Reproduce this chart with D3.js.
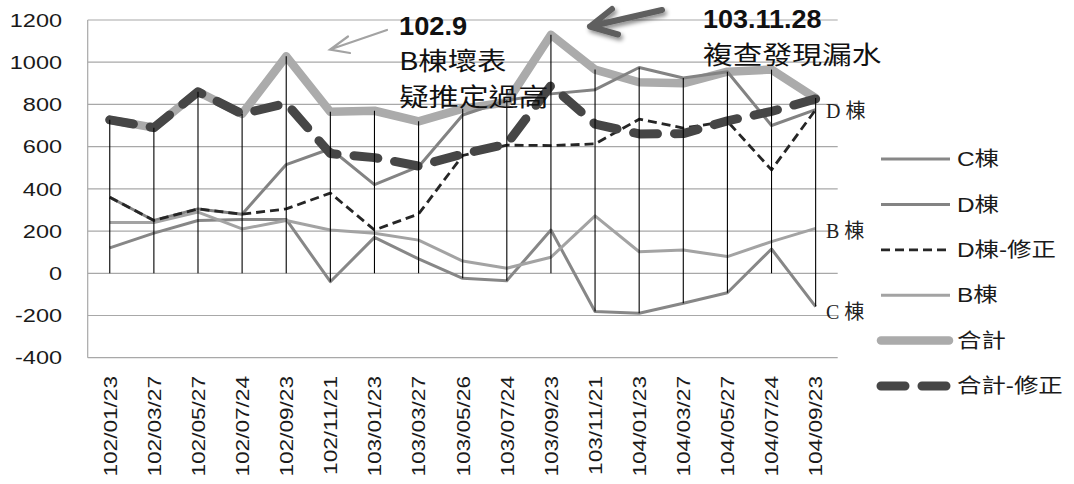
<!DOCTYPE html>
<html>
<head>
<meta charset="utf-8">
<script src="https://cdn.jsdelivr.net/npm/d3@7/dist/d3.min.js"></script>
<style>
  html, body { margin: 0; padding: 0; background: #fff; }
  svg { display: block; }
</style>
</head>
<body>
<svg id="chart" width="1074" height="484"></svg>
<script>
// Sampling dates (ROC calendar)
const categories = ["102/01/23","102/03/27","102/05/27","102/07/24","102/09/23","102/11/21",
  "103/01/23","103/03/27","103/05/26","103/07/24","103/09/23","103/11/21",
  "104/01/23","104/03/27","104/05/27","104/07/24","104/09/23"];

// Water usage per building
const cValues  = [120, 190, 250, 255, 255, -40, 170, 68, -24, -35, 205, -181, -189, -142, -92, 115, -158];
const dValues  = [360, 250, 305, 280, 515, 590, 420, 505, 750, 820, 850, 870, 975, 925, 955, 700, 775];
const dFixed   = [360, 250, 305, 280, 305, 380, 205, 281, 558, 607, 605, 613, 730, 688, 720, 490, 775];
const bValues  = [240, 240, 290, 210, 250, 205, 190, 157, 58, 24, 76, 272, 102, 110, 79, 150, 213];
const total    = [727, 690, 860, 755, 1028, 765, 770, 720, 780, 810, 1130, 965, 905, 900, 955, 965, 830];
const totalFix = [727, 690, 860, 755, 805, 567, 548, 508, 565, 612, 890, 707, 660, 662, 722, 767, 826];

const yTicks = [-400, -200, 0, 200, 400, 600, 800, 1000, 1200];

const seriesNames = ["C棟", "D棟", "D棟-修正", "B棟", "合計", "合計-修正"];

const svg = d3.select("#chart");
svg.append("rect").attr("width", 1074).attr("height", 484).attr("fill", "#fff");

const plotLeft = 87.7, plotRight = 837.7, plotTop = 20, plotBottom = 357.7;

const x = d3.scalePoint().domain(categories).range([plotLeft, plotRight]).padding(0.5);
const y = d3.scaleLinear().domain([-400, 1200]).range([plotBottom, plotTop]);

// Styles per series
const styles = {
  "C棟":      { color: "#878787", width: 3 },
  "D棟":      { color: "#838383", width: 3 },
  "D棟-修正": { color: "#262626", width: 2.8, dash: "9 5" },
  "B棟":      { color: "#a3a3a3", width: 3 },
  "合計":     { color: "#ababab", width: 8.5, cap: "round" },
  "合計-修正": { color: "#464646", width: 9, dash: "24 17", cap: "round" }
};
const seriesData = {
  "C棟": cValues, "D棟": dValues, "D棟-修正": dFixed,
  "B棟": bValues, "合計": total, "合計-修正": totalFix
};

// helper: text with horizontal stretch
function stext(parent, tx, ty, str, o) {
  const g = parent.append("g")
    .attr("transform", `translate(${tx},${ty})` + (o.rotate ? ` rotate(${o.rotate})` : "") + ` scale(${o.sx || 1},1)`);
  const t = g.append("text")
    .attr("font-family", o.family || "'Liberation Sans', 'Noto Sans CJK TC', sans-serif")
    .attr("font-size", o.size)
    .attr("font-weight", o.weight || "normal")
    .attr("text-anchor", o.anchor || "start")
    .attr("fill", o.fill || "#111")
    .text(str);
  if (o.dy) t.attr("dy", o.dy);
  return t;
}

// Gridlines
const grid = svg.append("g");
grid.selectAll("line").data(yTicks).join("line")
  .attr("x1", plotLeft).attr("x2", plotRight)
  .attr("y1", d => y(d)).attr("y2", d => y(d))
  .attr("stroke", "#a8a8a8").attr("stroke-width", 1.2);
// value axis line
grid.append("line").attr("x1", plotLeft).attr("x2", plotLeft).attr("y1", plotTop).attr("y2", plotBottom)
  .attr("stroke", "#a8a8a8").attr("stroke-width", 1.2);

// Y tick labels
yTicks.forEach(v => {
  stext(svg, 62, y(v), String(v), { size: 18.5, sx: 1.27, anchor: "end", dy: "0.36em", fill: "#1a1a1a" });
});

// X tick labels (rotated)
categories.forEach(c => {
  stext(svg, x(c), 376, c, { size: 19, sx: 1.19, anchor: "end", rotate: -90, dy: "0.36em", fill: "#1a1a1a" });
});

// Lines
const line = d3.line().x((d, i) => x(categories[i])).y(d => y(d));
const drawOrder = ["合計", "C棟", "D棟", "B棟", "D棟-修正", "合計-修正"];
drawOrder.forEach(name => {
  const s = styles[name];
  svg.append("path")
    .attr("d", line(seriesData[name]))
    .attr("fill", "none")
    .attr("stroke", s.color)
    .attr("stroke-width", s.width)
    .attr("stroke-linejoin", "round")
    .attr("stroke-linecap", s.cap || "butt")
    .attr("stroke-dasharray", s.dash || null);
});

// High-low lines
const allSeries = seriesNames.map(n => seriesData[n]);
svg.append("g").selectAll("line").data(categories).join("line")
  .attr("x1", d => x(d)).attr("x2", d => x(d))
  .attr("y1", (d, i) => y(Math.max(0, d3.max(allSeries, s => s[i]))))
  .attr("y2", (d, i) => y(Math.min(0, d3.min(allSeries, s => s[i]))))
  .attr("stroke", "#000").attr("stroke-width", 1.1);

// End labels
const last = categories.length - 1;
const serif = "'Liberation Serif', 'Noto Sans CJK TC', serif";
stext(svg, 826, y(dValues[last]) + 1, "D 棟", { size: 20, family: serif, dy: "0.36em", fill: "#222" });
stext(svg, 826, y(bValues[last]) + 2, "B 棟", { size: 20, family: serif, dy: "0.36em", fill: "#222" });
stext(svg, 826, y(cValues[last]) + 5, "C 棟", { size: 20, family: serif, dy: "0.36em", fill: "#222" });

// Legend
const legend = svg.append("g");
seriesNames.forEach((name, i) => {
  const ly = 159 + i * 45.4;
  const s = styles[name];
  const isThick = name.startsWith("合計");
  legend.append("line")
    .attr("x1", 881).attr("x2", isThick ? 949 : 950)
    .attr("y1", ly).attr("y2", ly)
    .attr("stroke", s.color)
    .attr("stroke-width", s.width)
    .attr("stroke-linecap", s.cap || "butt")
    .attr("stroke-dasharray", s.dash || null);
  stext(legend, 957, ly, name, { size: 20, sx: 1.22, dy: "0.36em", fill: "#1a1a1a" });
});

// Annotations
const defs = svg.append("defs");
const f = defs.append("filter").attr("id", "arrowShadow").attr("x", "-30%").attr("y", "-80%").attr("width", "160%").attr("height", "260%");
f.append("feDropShadow").attr("dx", 2).attr("dy", 3).attr("stdDeviation", 2)
  .attr("flood-color", "#000").attr("flood-opacity", 0.45);

// thin arrow pointing to the 102/09 peak
const a1 = svg.append("g").attr("stroke", "#a3a3a3").attr("stroke-width", 2.2)
  .attr("stroke-linecap", "round").attr("fill", "none");
a1.append("path").attr("d", "M387,30 L330,49.5 M348,36.5 L330,49.5 L350,53");

// thick arrow pointing to the 103/09 peak
const a2 = svg.append("g").attr("stroke", "#5e5e5e").attr("stroke-width", 6)
  .attr("stroke-linecap", "round").attr("stroke-linejoin", "round").attr("fill", "none")
  .attr("filter", "url(#arrowShadow)");
a2.append("path").attr("d", "M662,10 L590,26.5 M612,9 L590,26.5 L618,34.5");

const cjk = "'Noto Sans CJK TC', 'Liberation Sans', sans-serif";
stext(svg, 399, 35, "102.9", { size: 25, weight: "bold", sx: 1.09 });
stext(svg, 399, 70, "B棟壞表", { size: 24.5, family: cjk, sx: 1.2 });
stext(svg, 399, 106, "疑推定過高", { size: 24.5, family: cjk, sx: 1.22 });
stext(svg, 703, 28, "103.11.28", { size: 25, weight: "bold", sx: 1.08 });
stext(svg, 703, 64, "複查發現漏水", { size: 25, family: cjk, sx: 1.19 });
</script>
</body>
</html>
